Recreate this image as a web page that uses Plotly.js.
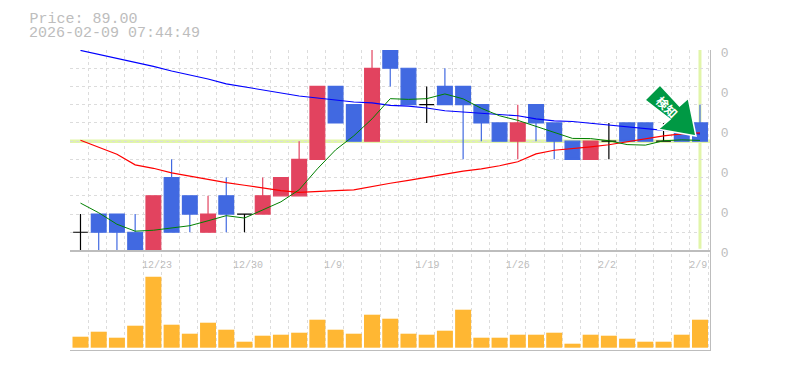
<!DOCTYPE html>
<html><head><meta charset="utf-8">
<script src="https://cdn.plot.ly/plotly-3.0.1.min.js"></script>
<style>html,body{margin:0;padding:0;background:#fff}</style></head>
<body><div id="chart" style="width:785px;height:370px"></div>
<script>
var openP  = [84,85,85,84,83,87,86,84,86,85,85,86,86,88,92,91,89,94,93,91,92,92,91,90,89,91,90,89,88,89,90,90,89,90,90];
var highP  = [85,85,85,85,86,88,86,86,87,85,87,87,89,92,92,91,94,94,93,92,93,92,91,90,91,91,90,89,89,90,90,90,90,90,91];
var lowP   = [83,83,83,83,83,84,84,84,84,84,85,86,86,88,90,89,89,92,91,90,91,88,89,89,88,89,88,88,88,88,89,89,89,89,89];
var closeP = [84,84,84,83,86,84,85,85,85,85,86,87,88,92,90,89,93,93,91,91,91,91,90,89,90,90,89,88,89,89,89,89,89,89,89];
var volume = [11,16,10,22,71,23,14,25,18,6,12,13,15,28,18,14,33,29,14,13,17,38,10,10,13,13,15,4,13,12,9,6,6,13,28];
var maBlue = [93.98,93.76,93.54,93.35,93.10,92.85,92.63,92.41,92.14,91.98,91.81,91.65,91.48,91.37,91.26,91.15,91.10,90.96,90.92,90.82,90.67,90.61,90.51,90.47,90.39,90.22,90.11,90.08,89.98,89.91,89.78,89.70,89.59,89.51,89.40];
var maRed  = [89.05,88.66,88.28,87.70,87.51,87.26,87.07,86.88,86.72,86.58,86.41,86.28,86.19,86.22,86.29,86.33,86.52,86.69,86.85,87.02,87.21,87.35,87.48,87.65,87.87,88.30,88.50,88.58,88.69,88.80,88.96,89.13,89.29,89.40,89.45];
var maGreen= [85.60,85.07,84.44,84.06,84.11,84.22,84.36,84.63,84.91,84.78,85.21,85.67,86.33,87.48,88.52,89.29,90.22,91.33,91.29,91.33,91.59,91.32,90.80,90.39,90.14,89.81,89.45,89.15,89.14,89.02,88.81,88.78,89.02,89.07,89.04];
var dateTickVals = [4.2,9.2,13.86,19.05,24,28.9,33.9];
var dateTickText = ['12/23','12/30','1/9','1/19','1/26','2/2','2/9'];
var rightTickVals = [295.2,255.2,215.2,175.7,135.7,95];
var rightTickText = ['0','0','0','0','0','0'];
var priceGrid = [83,84,85,86,87,88,89,90,91,92,93,94];
var lastPrice = 89;
var titleLine = 'Price: 89.00';
var timeLine = '2026-02-09 07:44:49';
var signalText = '検知';

var idx = openP.map(function(_, i){return i;});
var body = idx.filter(function(i){return openP[i]!==closeP[i];});
var doji = idx.filter(function(i){return openP[i]===closeP[i];});
function pick(a, ids){return ids.map(function(i){return a[i];});}
var gridX = []; for (var k=0;k<36;k++) gridX.push(k-0.56);
var xRange = [-0.576,34.55];
var MONO = '"Liberation Mono", monospace';
var GRAY = '#bdbdbd', RED='#e2435f', BLUE='#4169e1', PALE='#e1f5a9';

function px(x){return (x-70)/640;}
function py(y){return (350-y)/300;}
function path(pts){return 'M'+pts.map(function(p){return px(p[0])+' '+py(p[1]);}).join(' L')+' Z';}
var arrowPts = [[660,85],[679.5,106],[688.3,98.3],[696,136],[658.3,129.3],[670,119.3],[645,100]];

function ma(y,c,w){return {type:'scatter',mode:'lines',x:idx,y:y,xaxis:'x2',yaxis:'y2',line:{color:c,width:w},hoverinfo:'skip'};}
function candle(ids,up,down){return {type:'candlestick',x:ids,open:pick(openP,ids),high:pick(highP,ids),low:pick(lowP,ids),close:pick(closeP,ids),
  xaxis:'x2',yaxis:'y2',whiskerwidth:0,hoverinfo:'skip',
  increasing:{line:{color:up,width:1.2},fillcolor:up},decreasing:{line:{color:down,width:1.2},fillcolor:down}};}

var traces = [
 {type:'bar',x:idx,y:volume,width:0.878,marker:{color:'#ffb733',line:{width:0}},hoverinfo:'skip'},
 ma(maBlue,'#0000ff',1.1), ma(maRed,'#ff0000',1.2), ma(maGreen,'#008000',1),
 candle(body,RED,BLUE), candle(doji,'#000000','#000000')
];
var layout = {
 width:785,height:370,autosize:false,showlegend:false,paper_bgcolor:'#fff',plot_bgcolor:'rgba(0,0,0,0)',
 margin:{l:70,r:75,t:50,b:20},boxgap:0.19,boxgroupgap:0,boxmode:'overlay',
 title:{text:titleLine,x:29.5/785,xanchor:'left',y:1-18/370,yanchor:'middle',font:{family:MONO,size:15,color:GRAY}},
 xaxis:{domain:[0,1],range:xRange,tickmode:'array',tickvals:gridX,showticklabels:false,ticks:'',showgrid:true,gridcolor:'#dcdcdc',griddash:'3px,3px',gridwidth:1,zeroline:false,showline:true,linecolor:GRAY,linewidth:1.2,anchor:'y'},
 yaxis:{domain:[0,1],range:[-2.3,297.7],side:'right',tickmode:'array',tickvals:rightTickVals,ticktext:rightTickText,showgrid:false,zeroline:false,showline:true,linecolor:GRAY,linewidth:1.2,ticks:'outside',ticklen:7,tickcolor:'rgba(0,0,0,0)',tickfont:{family:MONO,size:13,color:GRAY},anchor:'x'},
 xaxis2:{domain:[0,1],range:xRange,rangeslider:{visible:false},tickmode:'array',tickvals:dateTickVals,ticktext:dateTickText,tickangle:0,showgrid:false,zeroline:false,showline:true,linecolor:GRAY,linewidth:1.2,ticks:'outside',ticklen:4,tickcolor:'rgba(0,0,0,0)',tickfont:{family:MONO,size:10,color:GRAY},anchor:'y2'},
 yaxis2:{domain:[0.3317,1],range:[83,94],tickmode:'array',tickvals:priceGrid,showticklabels:false,ticks:'',showgrid:true,gridcolor:'#dcdcdc',griddash:'3px,3px',gridwidth:1,zeroline:false,anchor:'x2'},
 shapes:[
  {type:'line',xref:'x2',yref:'y2',x0:xRange[0],x1:xRange[1],y0:lastPrice,y1:lastPrice,layer:'below',line:{color:PALE,width:3.5}},
  {type:'line',xref:'x2',yref:'y2',x0:34,x1:34,y0:83.1,y1:94,layer:'below',line:{color:PALE,width:3}},
  {type:'path',xref:'paper',yref:'paper',path:path(arrowPts),fillcolor:'#009944',line:{color:'#ffffff',width:1.5},layer:'above'}
 ],
 annotations:[
  {xref:'paper',yref:'paper',x:-43.5/640,y:py(33),xanchor:'left',yanchor:'middle',text:timeLine,showarrow:false,font:{family:MONO,size:15,color:GRAY}},
  {xref:'paper',yref:'paper',x:px(667),y:py(107),xanchor:'center',yanchor:'middle',text:signalText,showarrow:false,textangle:45,font:{family:'"Noto Sans CJK JP"',size:12,color:'#ffffff',weight:700}}
 ]
};
Plotly.newPlot('chart',traces,layout,{displayModeBar:false,staticPlot:true});
</script></body></html>
